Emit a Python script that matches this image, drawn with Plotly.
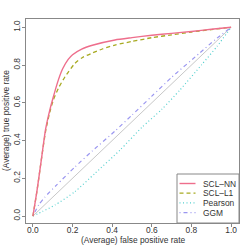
import plotly.graph_objects as go

nn_x = [0, 0.02, 0.04, 0.064, 0.086, 0.1, 0.128, 0.15, 0.178, 0.2, 0.246, 0.3, 0.414, 0.5, 0.6, 0.7, 0.8, 0.9, 1.0]
nn_y = [0, 0.13, 0.28, 0.46, 0.565, 0.62, 0.72, 0.78, 0.83, 0.855, 0.885, 0.905, 0.933, 0.945, 0.958, 0.968, 0.978, 0.99, 1.0]

l1_x = [0, 0.02, 0.04, 0.064, 0.085, 0.103, 0.13, 0.162, 0.212, 0.25, 0.296, 0.35, 0.414, 0.5, 0.6, 0.7, 0.8, 0.9, 1.0]
l1_y = [0, 0.13, 0.28, 0.45, 0.55, 0.615, 0.68, 0.738, 0.809, 0.84, 0.862, 0.885, 0.906, 0.925, 0.945, 0.96, 0.975, 0.988, 1.0]

pe_x = [0, 0.05, 0.111, 0.212, 0.313, 0.44, 0.55, 0.65, 0.742, 0.85, 0.93, 1.0]
pe_y = [0, 0.025, 0.058, 0.129, 0.226, 0.35, 0.47, 0.565, 0.668, 0.8, 0.9, 1.0]

gg_x = [0, 0.03, 0.06, 0.12, 0.212, 0.3, 0.414, 0.5, 0.6, 0.7, 0.843, 0.92, 1.0]
gg_y = [0, 0.06, 0.10, 0.165, 0.26, 0.345, 0.45, 0.535, 0.635, 0.735, 0.865, 0.935, 1.0]

diag = [0, 1]
ticks = [0.0, 0.2, 0.4, 0.6, 0.8, 1.0]
tick_text = ["0.0", "0.2", "0.4", "0.6", "0.8", "1.0"]

names = ["SCL\u2013NN", "SCL\u2013L1", "Pearson", "GGM"]
colors = ["#EE6E8C", "#A8AA22", "#55D0CF", "#9A96F0"]
dashes = ["solid", "4px,3px", "1px,2.5px", "1px,3px,4px,3px"]
widths = [1.4, 1.3, 1.2, 1.2]

FONT = "Liberation Sans, Arial, sans-serif"
FS = 8.4
TXT = "#333333"

fig = go.Figure()
fig.add_trace(go.Scatter(x=diag, y=diag, mode="lines",
                         line=dict(color="#C8C8C8", width=1), showlegend=False, hoverinfo="skip"))
for xs, ys, c, d, w, n in [(pe_x, pe_y, colors[2], dashes[2], widths[2], names[2]),
                           (gg_x, gg_y, colors[3], dashes[3], widths[3], names[3]),
                           (l1_x, l1_y, colors[1], dashes[1], widths[1], names[1]),
                           (nn_x, nn_y, colors[0], dashes[0], widths[0], names[0])]:
    fig.add_trace(go.Scatter(x=xs, y=ys, mode="lines", name=n,
                             line=dict(color=c, dash=d, width=w, shape="spline", smoothing=0.6),
                             showlegend=False))

axis_common = dict(showgrid=False, zeroline=False, showline=True, linecolor="#888888",
                   linewidth=1, mirror=True, ticks="outside", ticklen=3, tickcolor="#888888",
                   tickvals=ticks, ticktext=tick_text, automargin=False,
                   tickfont=dict(family=FONT, size=FS, color=TXT))
fig.update_xaxes(range=[-0.035, 1.04], ticklabelstandoff=-4, **axis_common)
fig.update_yaxes(range=[-0.037, 1.044], tickangle=-90, ticklabelstandoff=-1, **axis_common)

W, H = 249, 249
ml, mr, mt, mb = 26, 10, 19, 26
pw, ph = W - ml - mr, H - mt - mb
def px(x):
    return (x - ml) / pw
def py(y):
    return (H - mb - y) / ph

shapes = [dict(type="rect", xref="paper", yref="paper", x0=px(177), x1=1, y0=0, y1=py(174),
               line=dict(color="#888888", width=1), fillcolor="white", layer="above")]
annotations = [
    dict(xref="paper", yref="paper", x=px(133), y=py(240), text="(Average) false positive rate",
         showarrow=False, xanchor="center", yanchor="middle", font=dict(family=FONT, size=FS, color=TXT)),
    dict(xref="paper", yref="paper", x=px(6), y=py(121), text="(Average) true positive rate",
         showarrow=False, xanchor="center", yanchor="middle", textangle=-90,
         font=dict(family=FONT, size=FS, color=TXT)),
]
for i, (n, c, d, w) in enumerate(zip(names, colors, dashes, widths)):
    yy = 183.5 + i * 9.7
    shapes.append(dict(type="line", xref="paper", yref="paper", x0=px(179.5), x1=px(195.5),
                       y0=py(yy), y1=py(yy), line=dict(color=c, dash=d, width=w), layer="above"))
    annotations.append(dict(xref="paper", yref="paper", x=px(201), y=py(yy), text=n,
                            showarrow=False, xanchor="left", yanchor="middle",
                            font=dict(family=FONT, size=FS, color=TXT)))

fig.update_layout(width=W, height=H, margin=dict(l=ml, r=mr, t=mt, b=mb, autoexpand=False),
                  plot_bgcolor="white", paper_bgcolor="white",
                  shapes=shapes, annotations=annotations, showlegend=False)
fig.write_html("out.html", config={"displayModeBar": False, "staticPlot": True},
               post_script="document.body.style.margin='0';document.body.style.overflow='hidden';")
